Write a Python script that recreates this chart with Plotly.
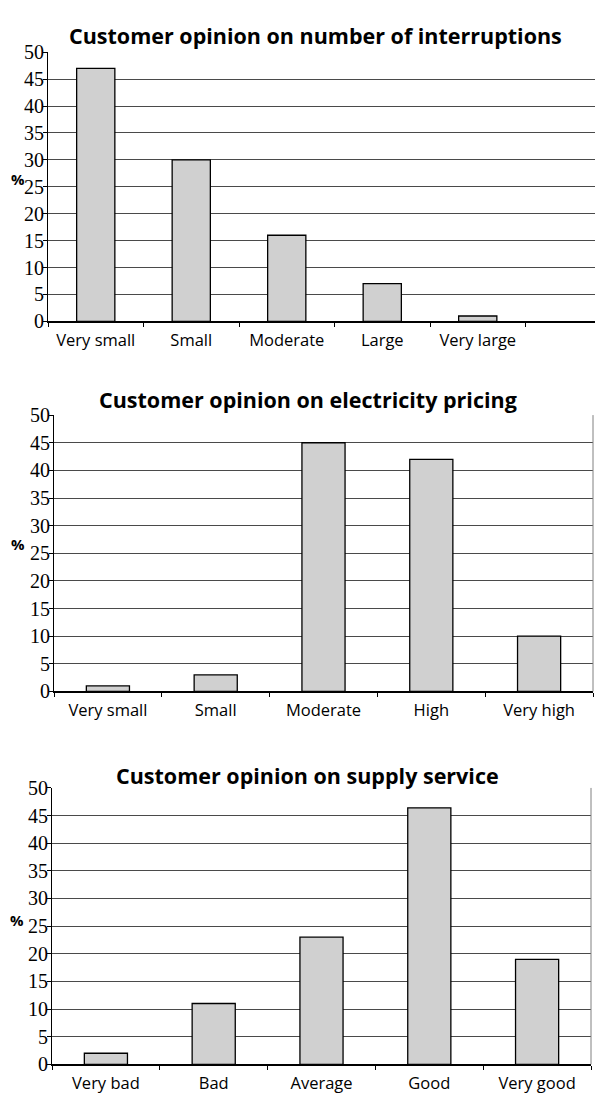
import plotly.graph_objects as go

W, H = 595, 1106

# ---- data ----
titles = [
    "Customer opinion on number of interruptions",
    "Customer opinion on electricity pricing",
    "Customer opinion on supply service",
]
cats1 = ["Very small", "Small", "Moderate", "Large", "Very large"]
vals1 = [47, 30, 16, 7, 1]
cats2 = ["Very small", "Small", "Moderate", "High", "Very high"]
vals2 = [1, 3, 45, 42, 10]
cats3 = ["Very bad", "Bad", "Average", "Good", "Very good"]
vals3 = [2, 11, 23, 46.4, 19]
y_ticks = [0, 5, 10, 15, 20, 25, 30, 35, 40, 45, 50]

# pixel boxes: (left, right, top, bottom)
boxes = [(48, 595, 42, 316.7), (54, 593, 412.3, 694.3), (52, 591, 792.7, 1074.7)]
xranges = [[-0.5, -0.5 + 547 / 95.5], [-0.5, 4.5], [-0.5, 4.5]]
title_pos = [(315, 25), (308, 396), (307, 780)]
pct_pos = [(18, 171), (18, 544), (17, 927)]
right_border = [False, True, True]

fig = go.Figure()
data = [(cats1, vals1), (cats2, vals2), (cats3, vals3)]
layout = dict(
    width=W, height=H, margin=dict(l=0, r=0, t=0, b=0),
    paper_bgcolor="white", plot_bgcolor="white", showlegend=False,
    bargap=0.6, annotations=[], shapes=[],
)
for i, ((cats, vals), (l, r, t, b)) in enumerate(zip(data, boxes)):
    n = "" if i == 0 else str(i + 1)
    fig.add_trace(go.Bar(
        x=cats, y=vals, xaxis="x" + n, yaxis="y" + n,
        marker=dict(color="#d0d0d0", line=dict(color="black", width=1.3)),
    ))
    layout["xaxis" + n] = dict(
        domain=[l / W, r / W], anchor="y" + n, range=xranges[i],
        type="category", showgrid=False, showline=True, linecolor="black", linewidth=1.5,
        ticks="outside", tickson="boundaries", ticklen=4, tickcolor="black",
        ticklabelstandoff=3,
        tickfont=dict(family="Open Sans", size=16.5, color="black"),
        zeroline=False, fixedrange=True,
    )
    layout["yaxis" + n] = dict(
        domain=[1 - b / H, 1 - t / H], anchor="x" + n, range=[0, 50],
        tickvals=y_ticks, showgrid=True, gridcolor="#4a4a4a", gridwidth=1,
        showline=True, linecolor="black", linewidth=1,
        ticks="outside", ticklen=4, tickcolor="black", ticklabelstandoff=-5,
        tickfont=dict(family="Liberation Serif", size=20, color="black"),
        zeroline=False, fixedrange=True,
    )
    tx, ty = title_pos[i]
    layout["annotations"].append(dict(
        text="<b>" + titles[i] + "</b>", x=tx / W, y=1 - ty / H, xref="paper", yref="paper",
        xanchor="center", yanchor="middle", showarrow=False,
        font=dict(family="Open Sans", size=21.5, color="black"),
    ))
    px_, py_ = pct_pos[i]
    layout["annotations"].append(dict(
        text="<b>%</b>", x=px_ / W, y=1 - py_ / H, xref="paper", yref="paper",
        xanchor="center", yanchor="middle", showarrow=False,
        font=dict(family="Open Sans", size=15, color="black"),
    ))
    if right_border[i]:
        layout["shapes"].append(dict(
            type="line", xref="x" + n + " domain", yref="y" + n + " domain",
            x0=1, x1=1, y0=0, y1=1, line=dict(color="#808080", width=1),
        ))

fig.update_layout(**layout)
fig.write_html("out.html")
